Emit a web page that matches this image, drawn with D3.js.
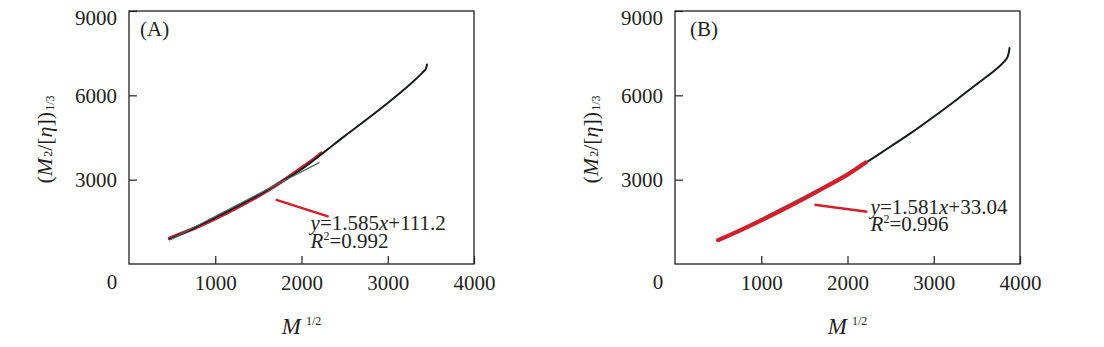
<!DOCTYPE html>
<html>
<head>
<meta charset="utf-8">
<script src="https://cdn.jsdelivr.net/npm/d3@7"></script>
<style>
  html, body { margin: 0; padding: 0; background: #fff; }
  svg { display: block; }
  text { font-family: "Liberation Serif", "Times New Roman", serif; fill: #231f20; }
</style>
</head>
<body>
<div id="chart"></div>
<script>
// ---------- data ----------
const panelLabels = ["(A)", "(B)"];
const xTickValues = [1000, 2000, 3000, 4000];
const yTickValues = [3000, 6000, 9000];
const originLabel = "0";

// Panel A: full data curve (black)
const blackAx = [470, 750, 1000, 1250, 1500, 1750, 2000, 2250, 2500, 2750, 3000, 3250, 3400, 3440, 3455];
const blackAy = [880, 1270, 1650, 2040, 2450, 2890, 3370, 3950, 4550, 5130, 5730, 6370, 6800, 6940, 7100];
// Panel A: fitted sub-range (red)
const redAx = [470, 600, 750, 1000, 1250, 1500, 1750, 2000, 2120, 2230];
const redAy = [910, 1080, 1260, 1610, 2000, 2420, 2890, 3420, 3680, 3950];

// Panel B: full data curve (black)
const blackBx = [500, 1000, 1250, 1500, 1750, 2000, 2250, 2500, 2750, 3000, 3250, 3500, 3750, 3850, 3870, 3878];
const blackBy = [840, 1540, 1920, 2320, 2740, 3170, 3680, 4180, 4690, 5240, 5810, 6400, 7000, 7330, 7520, 7680];
// Panel B: fitted sub-range (red)
const redBx = [500, 750, 1000, 1250, 1500, 1750, 2000, 2100, 2210];
const redBy = [850, 1190, 1550, 1930, 2330, 2750, 3180, 3380, 3610];

// linear fits
const fitSlope = [1.585, 1.581];
const fitIntercept = [111.2, 33.04];
const fitR2 = [0.992, 0.996];
const fitRange = [[470, 2210], [500, 2180]];

// ---------- layout ----------
const W = 1104, H = 347;
const plotW = 345, plotH = 253;
const panelLeft = [129, 675];
const panelTop = 11;
const RED = "#d31f2a", BLACK = "#141c1c", FITC = "#4f6868";

const svg = d3.select("#chart").append("svg").attr("width", W).attr("height", H);

const x = d3.scaleLinear().domain([0, 4000]).range([0, plotW]);
const y = d3.scaleLinear().domain([0, 9000]).range([plotH, 0]);

const line = d3.line().x(d => x(d[0])).y(d => y(d[1])).curve(d3.curveCatmullRom.alpha(0.5));

const panels = [
  { bx: blackAx, by: blackAy, rx: redAx, ry: redAy, redOnTop: false, labelDx: 11,
    ann: { from: [1700, 2288], to: [2315, 1683], text: [2105, 1196] } },
  { bx: blackBx, by: blackBy, rx: redBx, ry: redBy, redOnTop: true, labelDx: 15,
    ann: { from: [1618, 2110], to: [2231, 1860], text: [2268, 1790] } }
];

panels.forEach((p, i) => {
  const g = svg.append("g").attr("transform", `translate(${panelLeft[i]},${panelTop})`);

  // axes (inward ticks)
  const xAxis = d3.axisBottom(x).tickValues(xTickValues).tickSizeInner(-8).tickSizeOuter(0).tickPadding(11)
    .tickFormat(d3.format("d"));
  const gx = g.append("g").attr("transform", `translate(0,${plotH})`).call(xAxis);
  const yAxis = d3.axisLeft(y).tickValues(yTickValues).tickSizeInner(-8).tickSizeOuter(0).tickPadding(12)
    .tickFormat(d3.format("d"));
  const gy = g.append("g").call(yAxis);
  [gx, gy].forEach(a => {
    a.select(".domain").remove();
    a.selectAll(".tick line").attr("stroke", "#231f20").attr("stroke-width", 1.2);
    a.selectAll(".tick text").attr("font-size", 21).attr("fill", "#231f20");
  });
  gy.selectAll(".tick text").filter(d => d === 9000).attr("y", 7);

  // origin label
  g.append("text").attr("x", -17).attr("y", plotH + 25).attr("text-anchor", "middle")
    .attr("font-size", 21).text(originLabel);

  // frame
  g.append("rect").attr("x", 0).attr("y", 0).attr("width", plotW).attr("height", plotH)
    .attr("fill", "none").attr("stroke", "#231f20").attr("stroke-width", 1.3);

  // panel label
  g.append("text").attr("x", p.labelDx).attr("y", 25).attr("font-size", 21).text(panelLabels[i]);

  // curves
  const blackPts = p.bx.map((v, k) => [v, p.by[k]]);
  const redPts = p.rx.map((v, k) => [v, p.ry[k]]);
  const fitPts = fitRange[i].map(v => [v, fitSlope[i] * v + fitIntercept[i]]);
  const drawBlack = () => g.append("path").attr("d", line(blackPts)).attr("fill", "none")
    .attr("stroke", BLACK).attr("stroke-width", 2).attr("stroke-linecap", "round");
  const drawRed = () => g.append("path").attr("d", line(redPts)).attr("fill", "none")
    .attr("stroke", RED).attr("stroke-width", p.redOnTop ? 4.2 : 3.4).attr("stroke-linecap", "round");
  const drawFit = () => g.append("path").attr("d", d3.line().x(d => x(d[0])).y(d => y(d[1]))(fitPts))
    .attr("fill", "none").attr("stroke", FITC).attr("stroke-width", 1.2);
  if (p.redOnTop) { drawBlack(); drawFit(); drawRed(); }
  else { drawRed(); drawBlack(); drawFit(); }

  // annotation
  const a = p.ann;
  g.append("line").attr("x1", x(a.from[0])).attr("y1", y(a.from[1]))
    .attr("x2", x(a.to[0])).attr("y2", y(a.to[1]))
    .attr("stroke", RED).attr("stroke-width", 2.4);
  const t1 = g.append("text").attr("x", x(a.text[0])).attr("y", y(a.text[1])).attr("font-size", 21);
  t1.append("tspan").attr("font-style", "italic").text("y");
  t1.append("tspan").text("=" + fitSlope[i]);
  t1.append("tspan").attr("font-style", "italic").text("x");
  t1.append("tspan").text("+" + fitIntercept[i]);
  const t2 = g.append("text").attr("x", x(a.text[0])).attr("y", y(a.text[1]) + 17.6).attr("font-size", 21);
  t2.append("tspan").attr("font-style", "italic").text("R");
  t2.append("tspan").attr("font-size", 12).attr("dy", -8).text("2");
  t2.append("tspan").attr("dy", 8).text("=" + fitR2[i].toFixed(3));

  // x title
  const xt = g.append("text").attr("x", plotW / 2).attr("y", 323).attr("text-anchor", "middle").attr("font-size", 23);
  xt.append("tspan").attr("font-style", "italic").text("M");
  xt.append("tspan").attr("font-size", 12).attr("dx", 5).attr("dy", -9).text("1/2");

  // y title (small indices sit low, as in the reference)
  const yt = g.append("text").attr("transform", `translate(${-77},${plotH / 2 + 2}) rotate(-90)`)
    .attr("text-anchor", "middle").attr("font-size", 22);
  yt.append("tspan").text("(");
  yt.append("tspan").attr("font-style", "italic").text("M");
  yt.append("tspan").attr("font-size", 12).attr("dx", 1).attr("dy", 0).text("2");
  yt.append("tspan").text("/[");
  yt.append("tspan").attr("font-style", "italic").text("η");
  yt.append("tspan").text("])");
  yt.append("tspan").attr("font-size", 12).attr("dx", 1).attr("dy", 2).text("1/3");
});
</script>
</body>
</html>
